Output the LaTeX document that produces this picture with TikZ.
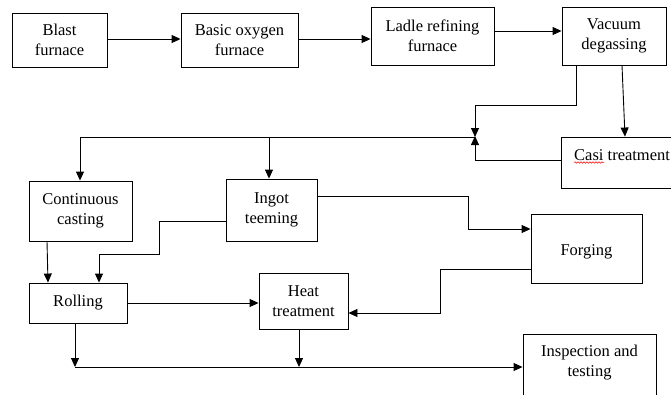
\documentclass[tikz,border=0pt]{standalone}
\usepackage{fontspec}
\setmainfont{Liberation Serif}
\usetikzlibrary{arrows.meta,decorations.pathmorphing}
\begin{document}
\begin{tikzpicture}[x=1pt,y=-1pt,
  box/.style={draw,line width=0.9pt,rectangle,inner sep=0pt,align=center,
    font=\fontsize{16.5}{20}\selectfont},
  txt/.style={inner sep=0pt,align=center,font=\fontsize{16.5}{20}\selectfont},
  arr/.style={line width=0.9pt,-{Triangle[length=9pt,width=8pt]}},
  ln/.style={line width=0.9pt}]
\useasboundingbox (0,0) rectangle (671,394);
% boxes
\node[box,minimum width=95pt,minimum height=54pt] (blast) at (59.5,40) {Blast\\furnace};
\node[box,minimum width=117pt,minimum height=54pt] (bof) at (239.5,40) {Basic oxygen\\furnace};
\node[box,minimum width=123pt,minimum height=58pt] (ladle) at (432.5,36) {Ladle refining\\furnace};
\node[box,minimum width=104pt,minimum height=58pt] (vac) at (614,36) {Vacuum\\degassing};
\node[box,minimum width=114pt,minimum height=51pt] (casi) at (618,162.5) {};
\node[txt,anchor=west] (casitxt) at (574,155) {Casi treatment};
\draw[red,line width=0.5pt,decorate,decoration={snake,amplitude=0.8pt,segment length=3pt}] (574,162.5) -- (604,162.5);
\node[box,minimum width=103pt,minimum height=60pt] (cc) at (80.5,211) {Continuous\\casting};
\node[box,minimum width=91pt,minimum height=62pt] (ingot) at (271.5,210) {Ingot\\teeming};
\node[box,minimum width=98pt,minimum height=40pt] (roll) at (78,303) {Rolling};
\node[box,minimum width=89pt,minimum height=56pt] (heat) at (303.5,301) {Heat\\treatment};
\node[box,minimum width=111pt,minimum height=69pt] (forg) at (586.5,248.5) {};
\node[txt] (forgtxt) at (586.5,252) {Forging};
\node[box,minimum width=133pt,minimum height=66pt] (insp) at (589.5,367) {};
\node[txt] (insptxt) at (589.5,363) {Inspection and\\testing};
% junctions
\coordinate (j) at (475,137);
\coordinate (k) at (75,367);
% connectors
\draw[arr] (blast.east |- 0,39) -- (bof.west |- 0,39);
\draw[arr] (bof.east |- 0,39) -- (ladle.west |- 0,39);
\draw[arr] (ladle.east |- 0,31) -- (vac.west |- 0,31);
\draw[arr] (vac.south -| 576,0) -- (576,105) -| (j);
\draw[arr] (vac.south -| 622,0) -- (casi.north -| 625,0);
\draw[arr] (casi.west |- 0,160) -| ([yshift=1pt]j);
\draw[ln] (j) -- (80,137);
\draw[arr] (80,137) -- (cc.north -| 80,0);
\draw[arr] (269,137) -- (ingot.north -| 269,0);
\draw[arr] (cc.south -| 47,0) -- (roll.north -| 48,0);
\draw[arr] (ingot.west |- 0,221) -| (159,254) -| (roll.north -| 99,0);
\draw[arr] (ingot.east |- 0,196) -| (468,229) -- (forg.west |- 0,229);
\draw[arr] (forg.west |- 0,269) -| (440,313) -- (heat.east |- 0,313);
\draw[arr] (roll.east |- 0,303) -- (heat.west |- 0,303);
\draw[arr] (roll.south -| k) -- (k);
\draw[arr] (heat.south -| 299,0) -- (299,367);
\draw[arr] (k) -- (insp.west);
\end{tikzpicture}
\end{document}
